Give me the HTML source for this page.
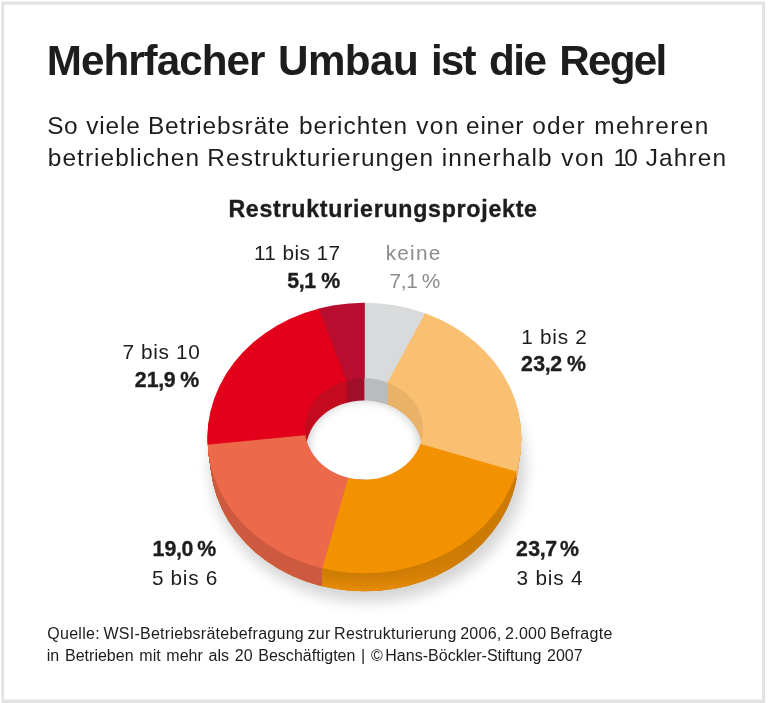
<!DOCTYPE html>
<html lang="de">
<head>
<meta charset="utf-8">
<title>Mehrfacher Umbau ist die Regel</title>
<style>
html,body{margin:0;padding:0;background:#fff;}
body{width:768px;height:703px;position:relative;overflow:hidden;}
svg{position:absolute;left:0;top:0;}
text{font-family:"Liberation Sans",sans-serif;fill:#1d1d1b;white-space:pre;}
text.b,.b{font-weight:bold;}
text.g{fill:#8c8c8b;}
text.s{stroke:#1d1d1b;stroke-width:0.35px;}
</style>
</head>
<body>
<svg width="768" height="703" viewBox="0 0 768 703">
<defs>
<clipPath id="outer"><ellipse cx="364.4" cy="438.0" rx="157.0" ry="135.3"/></clipPath>
<clipPath id="inner"><ellipse cx="364.0" cy="428.9" rx="59.0" ry="50.6"/></clipPath>
<clipPath id="hole"><ellipse cx="364.0" cy="450.2" rx="58.0" ry="49.7"/></clipPath>
<linearGradient id="hg" gradientUnits="userSpaceOnUse" x1="290" y1="0" x2="470" y2="0"><stop offset="0" stop-color="#fff" stop-opacity="0.6"/><stop offset="0.3" stop-color="#fff" stop-opacity="1"/><stop offset="0.55" stop-color="#fff" stop-opacity="1"/><stop offset="1" stop-color="#fff" stop-opacity="0"/></linearGradient>
<mask id="hm" maskUnits="userSpaceOnUse" x="190" y="420" width="360" height="200"><rect x="190" y="420" width="360" height="200" fill="url(#hg)"/></mask>
<clipPath id="cl"><rect x="190" y="420" width="131.8" height="190"/></clipPath>
<clipPath id="cr"><rect x="516.8" y="420" width="20" height="190"/></clipPath>
<filter id="blur" x="-20%" y="-20%" width="140%" height="140%"><feGaussianBlur stdDeviation="7"/></filter>
<filter id="blur2" x="-30%" y="-30%" width="160%" height="160%"><feGaussianBlur stdDeviation="5"/></filter>
</defs>
<path d="M1.4 1.4H765.2V704H1.4Z M4 4.7V699.4H762V4.7Z" fill="#e3e3e3" fill-rule="evenodd"/>
<ellipse cx="368" cy="466" rx="158" ry="136" fill="#000" opacity="0.16" filter="url(#blur)"/>
<g fill="#cc7c06"><ellipse cx="364.4" cy="458.60" rx="154.00" ry="132.70"/><ellipse cx="364.4" cy="457.74" rx="154.12" ry="132.81"/><ellipse cx="364.4" cy="456.88" rx="154.25" ry="132.92"/><ellipse cx="364.4" cy="456.03" rx="154.38" ry="133.02"/><ellipse cx="364.4" cy="455.17" rx="154.50" ry="133.13"/><ellipse cx="364.4" cy="454.31" rx="154.62" ry="133.24"/><ellipse cx="364.4" cy="453.45" rx="154.75" ry="133.35"/><ellipse cx="364.4" cy="452.59" rx="154.88" ry="133.46"/><ellipse cx="364.4" cy="451.73" rx="155.00" ry="133.57"/><ellipse cx="364.4" cy="450.88" rx="155.12" ry="133.68"/><ellipse cx="364.4" cy="450.02" rx="155.25" ry="133.78"/><ellipse cx="364.4" cy="449.16" rx="155.38" ry="133.89"/><ellipse cx="364.4" cy="448.30" rx="155.50" ry="134.00"/><ellipse cx="364.4" cy="447.44" rx="155.62" ry="134.11"/><ellipse cx="364.4" cy="446.58" rx="155.75" ry="134.22"/><ellipse cx="364.4" cy="445.73" rx="155.88" ry="134.32"/><ellipse cx="364.4" cy="444.87" rx="156.00" ry="134.43"/><ellipse cx="364.4" cy="444.01" rx="156.12" ry="134.54"/><ellipse cx="364.4" cy="443.15" rx="156.25" ry="134.65"/><ellipse cx="364.4" cy="442.29" rx="156.38" ry="134.76"/><ellipse cx="364.4" cy="441.43" rx="156.50" ry="134.87"/><ellipse cx="364.4" cy="440.57" rx="156.62" ry="134.98"/><ellipse cx="364.4" cy="439.72" rx="156.75" ry="135.08"/><ellipse cx="364.4" cy="438.86" rx="156.88" ry="135.19"/></g>
<g mask="url(#hm)"><ellipse cx="364.4" cy="458.60" rx="154.00" ry="132.70" fill="#e88c08"/><ellipse cx="364.4" cy="457.74" rx="154.12" ry="132.81" fill="#e68b08"/><ellipse cx="364.4" cy="456.88" rx="154.25" ry="132.92" fill="#e58a08"/><ellipse cx="364.4" cy="456.03" rx="154.38" ry="133.02" fill="#e48908"/><ellipse cx="364.4" cy="455.17" rx="154.50" ry="133.13" fill="#e28908"/><ellipse cx="364.4" cy="454.31" rx="154.62" ry="133.24" fill="#e18807"/><ellipse cx="364.4" cy="453.45" rx="154.75" ry="133.35" fill="#df8707"/><ellipse cx="364.4" cy="452.59" rx="154.88" ry="133.46" fill="#de8607"/><ellipse cx="364.4" cy="451.73" rx="155.00" ry="133.57" fill="#dd8507"/><ellipse cx="364.4" cy="450.88" rx="155.12" ry="133.68" fill="#db8507"/><ellipse cx="364.4" cy="450.02" rx="155.25" ry="133.78" fill="#da8407"/><ellipse cx="364.4" cy="449.16" rx="155.38" ry="133.89" fill="#d98307"/><ellipse cx="364.4" cy="448.30" rx="155.50" ry="134.00" fill="#d78207"/><ellipse cx="364.4" cy="447.44" rx="155.62" ry="134.11" fill="#d68207"/><ellipse cx="364.4" cy="446.58" rx="155.75" ry="134.22" fill="#d58107"/><ellipse cx="364.4" cy="445.73" rx="155.88" ry="134.32" fill="#d48007"/><ellipse cx="364.4" cy="444.87" rx="156.00" ry="134.43" fill="#d38006"/><ellipse cx="364.4" cy="444.01" rx="156.12" ry="134.54" fill="#d27f06"/><ellipse cx="364.4" cy="443.15" rx="156.25" ry="134.65" fill="#d17f06"/><ellipse cx="364.4" cy="442.29" rx="156.38" ry="134.76" fill="#d07e06"/><ellipse cx="364.4" cy="441.43" rx="156.50" ry="134.87" fill="#cf7e06"/><ellipse cx="364.4" cy="440.57" rx="156.62" ry="134.98" fill="#ce7d06"/><ellipse cx="364.4" cy="439.72" rx="156.75" ry="135.08" fill="#cd7d06"/><ellipse cx="364.4" cy="438.86" rx="156.88" ry="135.19" fill="#cc7c06"/></g>
<g clip-path="url(#cl)" fill="#cd5b41"><ellipse cx="364.4" cy="458.60" rx="154.00" ry="132.70"/><ellipse cx="364.4" cy="457.74" rx="154.12" ry="132.81"/><ellipse cx="364.4" cy="456.88" rx="154.25" ry="132.92"/><ellipse cx="364.4" cy="456.03" rx="154.38" ry="133.02"/><ellipse cx="364.4" cy="455.17" rx="154.50" ry="133.13"/><ellipse cx="364.4" cy="454.31" rx="154.62" ry="133.24"/><ellipse cx="364.4" cy="453.45" rx="154.75" ry="133.35"/><ellipse cx="364.4" cy="452.59" rx="154.88" ry="133.46"/><ellipse cx="364.4" cy="451.73" rx="155.00" ry="133.57"/><ellipse cx="364.4" cy="450.88" rx="155.12" ry="133.68"/><ellipse cx="364.4" cy="450.02" rx="155.25" ry="133.78"/><ellipse cx="364.4" cy="449.16" rx="155.38" ry="133.89"/><ellipse cx="364.4" cy="448.30" rx="155.50" ry="134.00"/><ellipse cx="364.4" cy="447.44" rx="155.62" ry="134.11"/><ellipse cx="364.4" cy="446.58" rx="155.75" ry="134.22"/><ellipse cx="364.4" cy="445.73" rx="155.88" ry="134.32"/><ellipse cx="364.4" cy="444.87" rx="156.00" ry="134.43"/><ellipse cx="364.4" cy="444.01" rx="156.12" ry="134.54"/><ellipse cx="364.4" cy="443.15" rx="156.25" ry="134.65"/><ellipse cx="364.4" cy="442.29" rx="156.38" ry="134.76"/><ellipse cx="364.4" cy="441.43" rx="156.50" ry="134.87"/><ellipse cx="364.4" cy="440.57" rx="156.62" ry="134.98"/><ellipse cx="364.4" cy="439.72" rx="156.75" ry="135.08"/><ellipse cx="364.4" cy="438.86" rx="156.88" ry="135.19"/></g>
<g clip-path="url(#cr)" fill="#eab268"><ellipse cx="364.4" cy="458.60" rx="154.00" ry="132.70"/><ellipse cx="364.4" cy="457.74" rx="154.12" ry="132.81"/><ellipse cx="364.4" cy="456.88" rx="154.25" ry="132.92"/><ellipse cx="364.4" cy="456.03" rx="154.38" ry="133.02"/><ellipse cx="364.4" cy="455.17" rx="154.50" ry="133.13"/><ellipse cx="364.4" cy="454.31" rx="154.62" ry="133.24"/><ellipse cx="364.4" cy="453.45" rx="154.75" ry="133.35"/><ellipse cx="364.4" cy="452.59" rx="154.88" ry="133.46"/><ellipse cx="364.4" cy="451.73" rx="155.00" ry="133.57"/><ellipse cx="364.4" cy="450.88" rx="155.12" ry="133.68"/><ellipse cx="364.4" cy="450.02" rx="155.25" ry="133.78"/><ellipse cx="364.4" cy="449.16" rx="155.38" ry="133.89"/><ellipse cx="364.4" cy="448.30" rx="155.50" ry="134.00"/><ellipse cx="364.4" cy="447.44" rx="155.62" ry="134.11"/><ellipse cx="364.4" cy="446.58" rx="155.75" ry="134.22"/><ellipse cx="364.4" cy="445.73" rx="155.88" ry="134.32"/><ellipse cx="364.4" cy="444.87" rx="156.00" ry="134.43"/><ellipse cx="364.4" cy="444.01" rx="156.12" ry="134.54"/><ellipse cx="364.4" cy="443.15" rx="156.25" ry="134.65"/><ellipse cx="364.4" cy="442.29" rx="156.38" ry="134.76"/><ellipse cx="364.4" cy="441.43" rx="156.50" ry="134.87"/><ellipse cx="364.4" cy="440.57" rx="156.62" ry="134.98"/><ellipse cx="364.4" cy="439.72" rx="156.75" ry="135.08"/><ellipse cx="364.4" cy="438.86" rx="156.88" ry="135.19"/></g>
<g clip-path="url(#outer)">
<polygon points="364.4,378.5 364.4,264.8 462.1,39.1 443.7,280.0 387.7,382.9 364.4,427.0" fill="#d9dadb" stroke="#d9dadb" stroke-width="0.8"/>
<polygon points="387.7,382.9 443.7,280.0 660.9,158.5 733.6,273.2 763.8,405.6 564.6,485.9 421.2,444.5 364.4,427.0" fill="#fac072" stroke="#fac072" stroke-width="0.8"/>
<polygon points="421.2,444.5 564.6,485.9 693.9,653.7 607.5,744.7 497.1,804.3 373.7,826.9 308.9,614.0 347.8,477.9 364.4,427.0" fill="#f39200" stroke="#f39200" stroke-width="0.8"/>
<polygon points="347.8,477.9 308.9,614.0 112.5,737.7 13.3,618.7 158.2,449.1 306.3,434.7 364.4,427.0" fill="#ec6a4a" stroke="#ec6a4a" stroke-width="0.8"/>
<polygon points="306.3,434.7 158.2,449.1 -26.0,340.1 23.0,218.6 108.6,119.5 306.0,274.0 346.9,381.0 364.4,427.0" fill="#e2001a" stroke="#e2001a" stroke-width="0.8"/>
<polygon points="346.9,381.0 306.0,274.0 291.8,33.6 364.4,264.8 364.4,378.5 364.4,427.0" fill="#b80d2e" stroke="#b80d2e" stroke-width="0.8"/>
</g>
<g clip-path="url(#inner)">
<rect x="300" y="370" width="47.2" height="120" fill="#c30a1e"/>
<rect x="346.9" y="370" width="17.8" height="120" fill="#a30f2b"/>
<rect x="364.4" y="370" width="23.6" height="120" fill="#b9bbbd"/>
<rect x="387.7" y="370" width="50" height="120" fill="#e8b369"/>
<g clip-path="url(#hole)">
<rect x="300" y="370" width="130" height="120" fill="#fff"/>
<ellipse cx="364.0" cy="447.2" rx="62.0" ry="53.7" fill="none" stroke="#000" stroke-opacity="0.2" stroke-width="14" filter="url(#blur2)"/>
</g>
</g>
<text class="b" y="75.30" style="font-size:42.2px;"><tspan x="46.75" style="letter-spacing:-0.983px;">Mehrfacher </tspan><tspan x="278.10" style="letter-spacing:-0.603px;">Umbau </tspan><tspan x="430.90" style="letter-spacing:-1.742px;">ist </tspan><tspan x="489.00" style="letter-spacing:-1.495px;">die </tspan><tspan x="559.30" style="letter-spacing:-1.765px;">Regel</tspan></text>
<text y="134.10" style="font-size:24.4px;"><tspan x="47.30" style="letter-spacing:0.532px;">So </tspan><tspan x="86.30" style="letter-spacing:0.851px;">viele </tspan><tspan x="147.90" style="letter-spacing:0.905px;">Betriebsräte </tspan><tspan x="298.90" style="letter-spacing:0.978px;">berichten </tspan><tspan x="416.30" style="letter-spacing:1.320px;">von </tspan><tspan x="466.10" style="letter-spacing:0.772px;">einer </tspan><tspan x="532.30" style="letter-spacing:1.135px;">oder </tspan><tspan x="594.20" style="letter-spacing:1.383px;">mehreren</tspan></text>
<text y="166.40" style="font-size:24.4px;"><tspan x="47.75" style="letter-spacing:1.076px;">betrieblichen </tspan><tspan x="207.30" style="letter-spacing:1.079px;">Restrukturierungen </tspan><tspan x="441.70" style="letter-spacing:1.202px;">innerhalb </tspan><tspan x="561.20" style="letter-spacing:1.620px;">von </tspan><tspan x="613.40" style="letter-spacing:-2.765px;">10 </tspan><tspan x="645.80" style="letter-spacing:1.118px;">Jahren</tspan></text>
<text class="b s" x="228.40" y="216.70" style="font-size:23.2px;letter-spacing:0.725px;">Restrukturierungsprojekte</text>
<text x="253.90" y="259.80" style="font-size:20.8px;letter-spacing:0.400px;">11 bis 17</text>
<text class="b s" x="287.30" y="288.30" style="font-size:21.3px;letter-spacing:0.300px;word-spacing:-1.323px;">5<tspan dx="-0.7">,</tspan><tspan dx="-0.7">1</tspan> %</text>
<text class="g" x="385.70" y="259.80" style="font-size:20.8px;letter-spacing:1.212px;">keine</text>
<text class="g" x="389.40" y="288.30" style="font-size:20.8px;letter-spacing:0.200px;word-spacing:-2.189px;">7<tspan dx="-0.5">,</tspan><tspan dx="-0.5">1</tspan> %</text>
<text x="122.40" y="358.90" style="font-size:20.8px;letter-spacing:0.647px;">7 bis 10</text>
<text class="b s" x="134.70" y="386.60" style="font-size:21.3px;letter-spacing:0.300px;word-spacing:-1.967px;">21<tspan dx="-0.7">,</tspan><tspan dx="-0.7">9</tspan> %</text>
<text x="521.30" y="343.60" style="font-size:20.8px;letter-spacing:0.707px;">1 bis 2</text>
<text class="b s" x="521.10" y="371.25" style="font-size:21.3px;letter-spacing:0.300px;word-spacing:-1.667px;">23<tspan dx="-0.7">,</tspan><tspan dx="-0.7">2</tspan> %</text>
<text class="b s" x="152.40" y="556.25" style="font-size:21.3px;letter-spacing:0.300px;word-spacing:-2.617px;">19<tspan dx="-0.7">,</tspan><tspan dx="-0.7">0</tspan> %</text>
<text x="151.90" y="585.20" style="font-size:20.8px;letter-spacing:0.682px;">5 bis 6</text>
<text class="b s" x="516.10" y="556.25" style="font-size:21.3px;letter-spacing:0.300px;word-spacing:-3.467px;">23<tspan dx="-0.7">,</tspan><tspan dx="-0.7">7</tspan> %</text>
<text x="516.60" y="585.20" style="font-size:20.8px;letter-spacing:0.782px;">3 bis 4</text>
<text x="47.30" y="639.00" style="font-size:16px;letter-spacing:0.269px;word-spacing:-1.2px;">Quelle: WSI-Betriebsrätebefragung zur Restrukturierung 2006, 2.000 Befragte</text>
<text x="46.80" y="660.60" style="font-size:16px;letter-spacing:0.020px;word-spacing:1.2px;">in Betrieben mit mehr als 20 Beschäftigten | ©<tspan dx="2.5">H</tspan>ans-Böckler-Stiftung 2007</text>
</svg>
</body>
</html>
